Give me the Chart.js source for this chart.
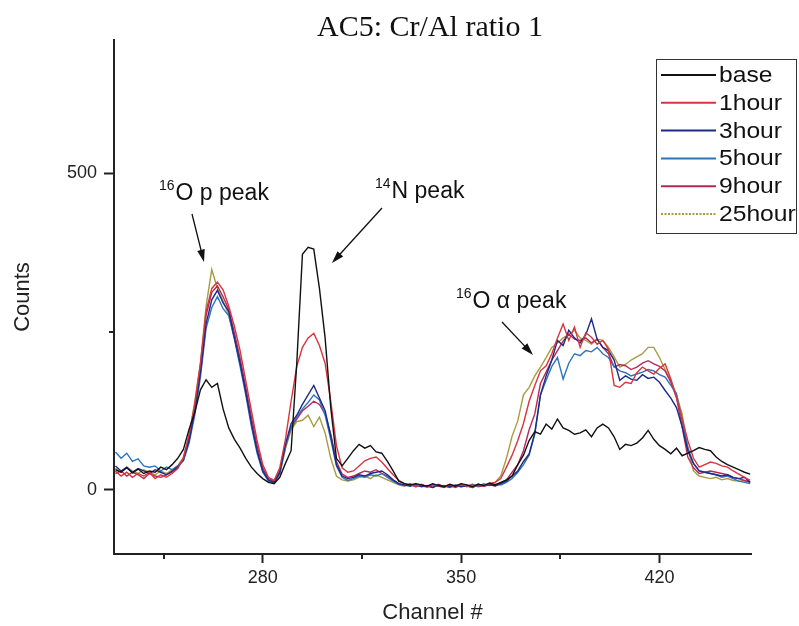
<!DOCTYPE html>
<html>
<head>
<meta charset="utf-8">
<title>AC5: Cr/Al ratio 1</title>
<script src="https://cdn.jsdelivr.net/npm/chart.js@4.4.0/dist/chart.umd.min.js"></script>
<style>
  html, body { margin: 0; padding: 0; background: #fff; }
  #wrap { width: 799px; height: 626px; }
</style>
</head>
<body>
<div id="wrap"><canvas id="spectrum" width="799" height="626"></canvas></div>
<script>
// --- Data (one value every 2 channels) ---
const FIRST_CHANNEL = 228;
const CHANNEL_STEP = 2;
const seriesNames = ['base', '1hour', '3hour', '5hour', '9hour', '25hour'];

const baseCounts = [
    32, 28, 35, 27, 33, 26, 30, 28, 36, 32,
    40, 50, 64, 96, 122, 158, 174, 162, 168, 128,
    98, 80, 66, 50, 36, 26, 18, 12, 10, 20,
    42, 62, 200, 372, 383, 380, 318, 240, 130, 50,
    38, 50, 62, 72, 66, 70, 60, 58, 45, 30,
    14, 10, 8, 10, 8, 6, 10, 7, 5, 9,
    6, 10, 8, 5, 9, 7, 11, 8, 12, 16,
    22, 40, 55, 78, 92, 88, 104, 96, 112, 98,
    94, 88, 90, 95, 84, 98, 104, 98, 84, 64,
    72, 70, 74, 82, 94, 80, 70, 64, 57, 66,
    54, 58, 62, 67, 64, 62, 52, 45, 40, 36,
    32, 28, 25
];
const hour1Counts = [
    30, 22, 28, 20, 26, 22, 28, 18, 24, 20,
    26, 34, 50, 88, 135, 200, 282, 318, 328, 316,
    290, 258, 220, 172, 125, 78, 40, 20, 15, 35,
    80, 140, 195, 225, 240, 247, 228, 200, 140, 70,
    35, 28, 30, 38, 46, 50, 52, 44, 34, 24,
    15, 10, 8, 6, 9, 5, 8, 6, 4, 8,
    5, 9, 6, 4, 8, 6, 10, 12, 18, 36,
    55, 78, 105, 140, 165, 188, 196, 215, 240, 262,
    236, 257, 225, 248, 241, 230, 236, 222, 165, 162,
    170, 168, 185, 194, 188, 183, 192, 199, 175, 146,
    112, 78, 50, 36, 40, 44, 42, 38, 36, 30,
    25, 20, 15
];
const hour3Counts = [
    38, 30, 36, 28, 34, 30, 26, 32, 28, 24,
    30, 36, 48, 78, 125, 185, 262, 300, 315, 295,
    282, 240, 200, 155, 105, 62, 30, 16, 12, 28,
    72, 105, 118, 135, 150, 165, 145, 125, 85, 40,
    22, 18, 20, 24, 22, 26, 28, 30, 24, 16,
    10, 8, 6, 9, 5, 7, 4, 8, 6, 5,
    8, 5, 7, 4, 9, 6, 8, 7, 10, 14,
    22, 30, 45, 57, 90, 150, 180, 205, 236, 228,
    252, 240, 232, 245, 270, 238, 225, 220, 205, 173,
    180, 175, 173, 182, 176, 178, 170, 157, 145, 130,
    100, 62, 42, 30, 28, 26, 24, 22, 24, 20,
    18, 20, 12
];
const hour5Counts = [
    60, 50, 58, 45, 49, 38, 36, 38, 30, 36,
    32, 38, 46, 74, 118, 178, 255, 288, 305, 286,
    275, 238, 195, 150, 100, 58, 28, 14, 11, 26,
    68, 100, 115, 128, 138, 150, 142, 118, 80, 38,
    20, 15, 18, 22, 20, 24, 22, 26, 20, 14,
    9, 7, 10, 6, 8, 5, 9, 6, 7, 4,
    7, 9, 5, 8, 6, 10, 7, 9, 8, 12,
    18, 28, 40, 55, 88, 150, 173, 195, 209, 175,
    200, 215, 212, 220, 218, 225, 215, 209, 195, 188,
    185, 180, 183, 186, 190, 188, 182, 178, 165, 152,
    109, 67, 42, 30, 28, 26, 24, 20, 22, 18,
    14, 12, 10
];
const hour9Counts = [
    26, 30, 22, 28, 24, 18, 26, 22, 20, 24,
    28, 36, 50, 82, 130, 195, 275, 312, 322, 305,
    285, 248, 208, 162, 115, 70, 35, 18, 14, 30,
    70, 98, 112, 125, 132, 140, 135, 120, 88, 45,
    25, 20, 22, 26, 30, 28, 32, 26, 22, 15,
    10, 7, 9, 5, 8, 6, 4, 9, 5, 7,
    4, 8, 6, 9, 5, 7, 9, 6, 11, 16,
    28, 40, 62, 95, 120, 168, 186, 205, 220, 235,
    246, 238, 236, 240, 232, 238, 225, 215, 194, 198,
    196, 190, 194, 200, 204, 199, 195, 188, 170, 146,
    99, 52, 35, 26, 28, 30, 28, 26, 24, 20,
    18, 15, 12
];
const hour25Counts = [
    34, 28, 36, 30, 26, 32, 28, 24, 30, 26,
    32, 38, 52, 85, 140, 200, 290, 348, 318, 298,
    276, 240, 200, 155, 108, 64, 32, 16, 12, 25,
    65, 95, 108, 110, 118, 100, 115, 90, 50, 22,
    16, 14, 16, 20, 22, 18, 24, 20, 16, 12,
    8, 6, 9, 5, 7, 4, 8, 6, 5, 9,
    6, 5, 8, 6, 9, 7, 10, 12, 22, 50,
    85, 109, 150, 162, 180, 194, 209, 225, 232, 240,
    245, 252, 240, 236, 230, 238, 236, 225, 210, 194,
    198, 205, 210, 215, 225, 225, 209, 190, 173, 150,
    120, 67, 30, 22, 20, 18, 20, 16, 18, 15,
    14, 15, 12
];

const xTickLabels = [280, 350, 420];
const xMinorTicks = [245, 315, 385];
const yTickLabels = [0, 500];
const yMinorTicks = [250];

// --- Styles ---
const seriesColors = ['#111111', '#d8343f', '#1d2a86', '#2d74bd', '#bb2657', '#a89c40'];
const AXIS_COLOR = '#222222';
const SANS = '"Liberation Sans", Arial, sans-serif';
const SERIF = '"Liberation Serif", "Times New Roman", serif';

const channels = [];
for (let i = 0; i < baseCounts.length; i++) channels.push(FIRST_CHANNEL + i * CHANNEL_STEP);

const allCounts = [baseCounts, hour1Counts, hour3Counts, hour5Counts, hour9Counts, hour25Counts];

// --- Helper drawing functions ---

function drawArrow(ctx, x1, y1, x2, y2) {
    const angle = Math.atan2(y2 - y1, x2 - x1);
    const head = 13;
    ctx.beginPath();
    ctx.moveTo(x1, y1);
    ctx.lineTo(x2 - Math.cos(angle) * head * 0.8, y2 - Math.sin(angle) * head * 0.8);
    ctx.stroke();
    ctx.beginPath();
    ctx.moveTo(x2, y2);
    ctx.lineTo(x2 - head * Math.cos(angle - 0.3), y2 - head * Math.sin(angle - 0.3));
    ctx.lineTo(x2 - head * Math.cos(angle + 0.3), y2 - head * Math.sin(angle + 0.3));
    ctx.closePath();
    ctx.fill();
}

/** Label with a small superscript mass number in front (e.g. 16O). */
function drawIsotopeLabel(ctx, sup, text, x, baseline) {
    ctx.textAlign = 'left';
    ctx.textBaseline = 'alphabetic';
    ctx.font = '14px ' + SANS;
    ctx.fillText(sup, x, baseline - 10);
    const w = ctx.measureText(sup).width;
    ctx.font = '23px ' + SANS;
    ctx.fillText(text, x + w + 1, baseline);
}

const overlayPlugin = {
    id: 'overlay',
    afterDraw(chart) {
        const ctx = chart.ctx;
        const xs = chart.scales.x;
        const ys = chart.scales.y;
        ctx.save();

        // minor ticks
        ctx.strokeStyle = AXIS_COLOR;
        ctx.lineWidth = 2;
        xMinorTicks.forEach(v => {
            const px = Math.round(xs.getPixelForValue(v));
            ctx.beginPath();
            ctx.moveTo(px, xs.top);
            ctx.lineTo(px, xs.top + 5);
            ctx.stroke();
        });
        yMinorTicks.forEach(v => {
            const py = Math.round(ys.getPixelForValue(v));
            ctx.beginPath();
            ctx.moveTo(ys.right - 5, py);
            ctx.lineTo(ys.right, py);
            ctx.stroke();
        });

        // title
        ctx.fillStyle = '#111';
        ctx.font = '30px ' + SERIF;
        ctx.textAlign = 'center';
        ctx.textBaseline = 'alphabetic';
        ctx.fillText('AC5: Cr/Al ratio 1', 430, 36);

        // peak annotations
        ctx.fillStyle = '#111';
        ctx.strokeStyle = '#111';
        ctx.lineWidth = 1.3;
        drawIsotopeLabel(ctx, '16', 'O p peak', 159, 200);
        drawArrow(ctx, 192, 214, 204, 262);
        drawIsotopeLabel(ctx, '14', 'N peak', 375, 198);
        drawArrow(ctx, 382, 208, 332, 263);
        drawIsotopeLabel(ctx, '16', 'O \u03b1 peak', 456, 308);
        drawArrow(ctx, 502, 322, 533, 355);

        // legend box (text in the original is slightly stretched sideways)
        ctx.lineWidth = 1;
        ctx.strokeStyle = '#333';
        ctx.strokeRect(656.5, 59.5, 140, 174);
        ctx.font = '22px ' + SANS;
        ctx.textAlign = 'left';
        ctx.textBaseline = 'middle';
        seriesNames.forEach((name, i) => {
            const y = 75 + i * 27.8;
            ctx.strokeStyle = seriesColors[i];
            ctx.lineWidth = 2;
            ctx.setLineDash(i === 5 ? [2, 1.5] : []);
            ctx.beginPath();
            ctx.moveTo(661, y);
            ctx.lineTo(716, y);
            ctx.stroke();
            ctx.setLineDash([]);
            ctx.fillStyle = '#111';
            ctx.save();
            ctx.translate(719, y + 1);
            ctx.scale(1.12, 1);
            ctx.fillText(name, 0, 0);
            ctx.restore();
        });
        ctx.restore();
    }
};

// --- Chart ---

const datasets = allCounts.map((counts, i) => ({
    label: seriesNames[i],
    data: counts.map((c, j) => ({ x: channels[j], y: c })),
    borderColor: seriesColors[i],
    borderWidth: 1.4,
    pointRadius: 0,
    tension: 0,
    fill: false
}));

new Chart(document.getElementById('spectrum'), {
    type: 'line',
    data: { datasets },
    plugins: [overlayPlugin],
    options: {
        responsive: false,
        animation: false,
        devicePixelRatio: 1,
        layout: { padding: { top: 40, right: 48, bottom: 0, left: 0 } },
        plugins: {
            legend: { display: false },
            title: { display: false },
            tooltip: { enabled: false }
        },
        scales: {
            x: {
                type: 'linear',
                min: 227.5,
                max: 452.3,
                afterBuildTicks: s => { s.ticks = xTickLabels.map(v => ({ value: v })); },
                afterFit: s => { s.height = 72; },
                ticks: { font: { size: 18, family: SANS }, color: AXIS_COLOR, padding: 4, maxRotation: 0, autoSkip: false },
                grid: { drawOnChartArea: false, drawTicks: true, tickLength: 9, tickWidth: 2, tickColor: AXIS_COLOR },
                border: { display: true, color: AXIS_COLOR, width: 2 },
                title: { display: true, text: 'Channel #', color: AXIS_COLOR, font: { size: 22, family: SANS }, padding: { top: 0, bottom: 0 } }
            },
            y: {
                min: -101,
                max: 710,
                afterBuildTicks: s => { s.ticks = yTickLabels.map(v => ({ value: v })); },
                afterFit: s => { s.width = 114; },
                ticks: { font: { size: 18, family: SANS }, color: AXIS_COLOR, padding: 7 },
                grid: { drawOnChartArea: false, drawTicks: true, tickLength: 10, tickWidth: 2, tickColor: AXIS_COLOR },
                border: { display: true, color: AXIS_COLOR, width: 2 },
                title: { display: true, text: 'Counts', color: AXIS_COLOR, font: { size: 22, family: SANS }, padding: { top: 10, bottom: 0 } }
            }
        }
    }
});
</script>
</body>
</html>
